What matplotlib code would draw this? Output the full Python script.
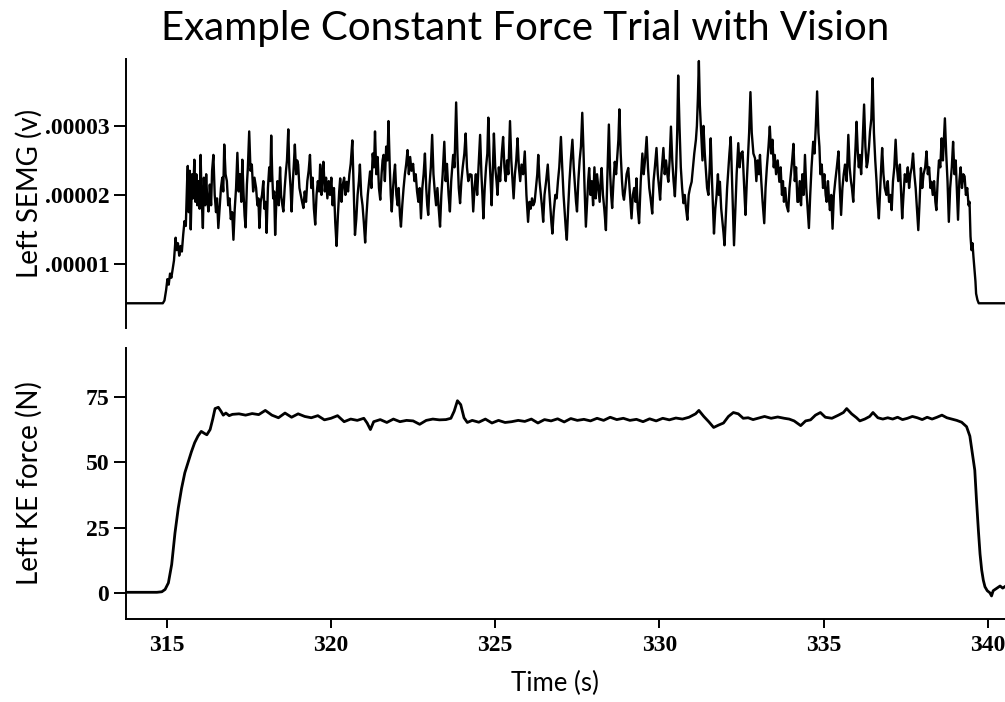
import numpy as np
import matplotlib
matplotlib.use("Agg")
import matplotlib.pyplot as plt

plt.rcParams.update({
    "font.family": "Lato",
    "axes.linewidth": 1.4,
    "xtick.major.width": 1.4,
    "ytick.major.width": 1.4,
})

# ---- data (time in s) ----
semg_t = [313.78, 314.88, 314.93, 314.98, 315.02, 315.06, 315.10, 315.14, 315.18, 315.22,
          315.27, 315.30, 315.34, 315.38, 315.42, 315.46, 315.50, 315.54, 315.58, 315.62,
          315.64, 315.67, 315.70, 315.73, 315.77, 315.80, 315.84, 315.87, 315.90, 315.93,
          315.97, 316.00, 316.03, 316.06, 316.10, 316.13, 316.17, 316.20, 316.23, 316.27,
          316.31, 316.35, 316.38, 316.42, 316.46, 316.50, 316.53, 316.57, 316.61, 316.65,
          316.69, 316.72, 316.75, 316.79, 316.83, 316.87, 316.91, 316.95, 316.99, 317.03,
          317.07, 317.11, 317.15, 317.19, 317.23, 317.27, 317.30, 317.34, 317.37, 317.40,
          317.44, 317.47, 317.51, 317.55, 317.59, 317.63, 317.67, 317.72, 317.76, 317.79,
          317.82, 317.86, 317.90, 317.94, 317.97, 318.01, 318.04, 318.08, 318.12, 318.15,
          318.18, 318.21, 318.24, 318.27, 318.30, 318.34, 318.37, 318.41, 318.45, 318.48,
          318.52, 318.55, 318.59, 318.63, 318.66, 318.70, 318.73, 318.77, 318.80, 318.84,
          318.87, 318.90, 318.94, 318.97, 319.00, 319.04, 319.08, 319.12, 319.16, 319.20,
          319.24, 319.28, 319.32, 319.36, 319.40, 319.44, 319.48, 319.52, 319.56, 319.60,
          319.64, 319.67, 319.71, 319.74, 319.77, 319.81, 319.85, 319.89, 319.93, 319.97,
          320.01, 320.05, 320.09, 320.13, 320.17, 320.21, 320.25, 320.28, 320.32, 320.36,
          320.40, 320.44, 320.48, 320.52, 320.56, 320.60, 320.65, 320.69, 320.73, 320.77,
          320.81, 320.85, 320.88, 320.92, 320.96, 321.00, 321.04, 321.08, 321.12, 321.16,
          321.19, 321.23, 321.27, 321.31, 321.34, 321.38, 321.42, 321.46, 321.50, 321.54,
          321.57, 321.60, 321.64, 321.68, 321.72, 321.75, 321.79, 321.82, 321.85, 321.89,
          321.92, 321.95, 321.99, 322.03, 322.06, 322.10, 322.13, 322.17, 322.21, 322.25,
          322.29, 322.33, 322.37, 322.41, 322.45, 322.50, 322.54, 322.58, 322.62, 322.66,
          322.70, 322.74, 322.78, 322.82, 322.86, 322.90, 322.93, 322.96, 323.00, 323.04,
          323.08, 323.12, 323.16, 323.20, 323.24, 323.28, 323.32, 323.36, 323.40, 323.45,
          323.49, 323.53, 323.58, 323.62, 323.66, 323.69, 323.72, 323.76, 323.81, 323.85,
          323.89, 323.93, 323.97, 324.01, 324.06, 324.10, 324.14, 324.18, 324.23, 324.28,
          324.33, 324.37, 324.41, 324.45, 324.50, 324.54, 324.58, 324.61, 324.64, 324.68,
          324.72, 324.76, 324.79, 324.83, 324.86, 324.89, 324.93, 324.96, 325.00, 325.04,
          325.07, 325.11, 325.15, 325.20, 325.24, 325.28, 325.32, 325.36, 325.40, 325.45,
          325.49, 325.53, 325.56, 325.60, 325.64, 325.68, 325.72, 325.76, 325.80, 325.85,
          325.90, 325.95, 326.00, 326.04, 326.08, 326.12, 326.16, 326.20, 326.24, 326.28,
          326.31, 326.35, 326.39, 326.43, 326.46, 326.50, 326.55, 326.60, 326.64, 326.68,
          326.71, 326.74, 326.78, 326.83, 326.87, 326.91, 326.95, 327.00, 327.04, 327.08,
          327.12, 327.15, 327.18, 327.22, 327.26, 327.30, 327.35, 327.39, 327.43, 327.46,
          327.49, 327.53, 327.57, 327.61, 327.65, 327.69, 327.72, 327.76, 327.80, 327.83,
          327.86, 327.90, 327.94, 327.98, 328.02, 328.06, 328.10, 328.14, 328.18, 328.21,
          328.24, 328.28, 328.32, 328.37, 328.41, 328.46, 328.50, 328.53, 328.56, 328.60,
          328.64, 328.68, 328.72, 328.75, 328.78, 328.82, 328.86, 328.89, 328.92, 328.96,
          329.00, 329.05, 329.09, 329.12, 329.15, 329.19, 329.23, 329.27, 329.30, 329.34,
          329.38, 329.43, 329.48, 329.52, 329.56, 329.61, 329.65, 329.69, 329.73, 329.78,
          329.82, 329.86, 329.91, 329.95, 329.99, 330.02, 330.06, 330.09, 330.12, 330.16,
          330.20, 330.24, 330.27, 330.31, 330.35, 330.39, 330.43, 330.47, 330.51, 330.54,
          330.57, 330.61, 330.65, 330.69, 330.73, 330.77, 330.81, 330.85, 330.89, 330.93,
          330.98, 331.02, 331.06, 331.11, 331.14, 331.17, 331.20, 331.23, 331.27, 331.31,
          331.34, 331.38, 331.42, 331.45, 331.49, 331.53, 331.56, 331.60, 331.63, 331.66,
          331.70, 331.74, 331.78, 331.81, 331.84, 331.88, 331.92, 331.95, 331.98, 332.02,
          332.06, 332.10, 332.13, 332.17, 332.21, 332.24, 332.27, 332.31, 332.35, 332.40,
          332.44, 332.48, 332.53, 332.57, 332.60, 332.62, 332.66, 332.70, 332.73, 332.77,
          332.81, 332.86, 332.91, 332.95, 332.99, 333.03, 333.06, 333.10, 333.14, 333.19,
          333.23, 333.27, 333.32, 333.36, 333.40, 333.44, 333.48, 333.51, 333.55, 333.60,
          333.65, 333.69, 333.73, 333.76, 333.79, 333.83, 333.87, 333.92, 333.96, 334.00,
          334.04, 334.08, 334.12, 334.16, 334.20, 334.23, 334.27, 334.31, 334.35, 334.39,
          334.43, 334.47, 334.51, 334.55, 334.59, 334.63, 334.68, 334.72, 334.76, 334.80,
          334.84, 334.87, 334.90, 334.94, 334.98, 335.02, 335.06, 335.09, 335.13, 335.16,
          335.19, 335.23, 335.27, 335.31, 335.35, 335.40, 335.45, 335.49, 335.53, 335.57,
          335.61, 335.65, 335.70, 335.75, 335.79, 335.83, 335.86, 335.90, 335.94, 335.97,
          336.00, 336.04, 336.07, 336.10, 336.14, 336.18, 336.23, 336.27, 336.31, 336.34,
          336.38, 336.41, 336.45, 336.49, 336.53, 336.57, 336.61, 336.64, 336.68, 336.72,
          336.75, 336.78, 336.82, 336.86, 336.91, 336.95, 336.99, 337.03, 337.07, 337.11,
          337.15, 337.19, 337.23, 337.27, 337.32, 337.36, 337.39, 337.43, 337.47, 337.52,
          337.56, 337.60, 337.64, 337.68, 337.72, 337.76, 337.80, 337.84, 337.88, 337.92,
          337.96, 338.00, 338.04, 338.09, 338.13, 338.17, 338.21, 338.25, 338.28, 338.32,
          338.36, 338.40, 338.43, 338.47, 338.51, 338.55, 338.59, 338.63, 338.66, 338.69,
          338.73, 338.77, 338.81, 338.85, 338.90, 338.94, 338.98, 339.02, 339.06, 339.09,
          339.13, 339.17, 339.21, 339.25, 339.29, 339.33, 339.37, 339.41, 339.44, 339.47,
          339.50, 339.53, 339.56, 339.59, 339.62, 339.64, 339.68, 339.72, 340.52]

# SEMG amplitude in units of 1e-5 V
semg_v = [0.43, 0.43, 0.47, 0.62, 0.78, 0.70, 0.86, 0.80, 0.93, 1.05,
          1.38, 1.20, 1.30, 1.12, 1.26, 1.18, 1.42, 1.62, 1.55, 2.20,
          2.42, 1.75, 2.35, 1.50, 2.30, 1.95, 2.51, 1.90, 2.30, 1.85,
          2.20, 1.80, 2.58, 2.00, 1.52, 2.25, 1.85, 2.30, 1.95, 1.76,
          2.15, 1.85, 2.35, 2.58, 2.00, 1.75, 1.95, 1.52, 1.80, 2.10,
          2.25, 2.05, 2.73, 2.30, 2.20, 1.85, 1.95, 1.65, 1.75, 1.35,
          1.80, 2.10, 2.61, 2.05, 2.30, 1.90, 2.51, 2.00, 1.70, 1.53,
          2.15, 2.40, 2.92, 2.35, 2.44, 2.05, 2.25, 2.10, 1.85, 1.95,
          1.52, 1.90, 2.00, 2.20, 1.80, 1.90, 1.45, 2.10, 2.40, 2.20,
          2.86, 2.30, 1.95, 2.05, 1.42, 1.95, 2.20, 1.85, 2.40, 2.00,
          1.85, 1.76, 2.10, 2.35, 2.50, 2.95, 2.40, 2.10, 1.76, 2.20,
          2.45, 2.73, 2.30, 2.50, 2.44, 2.10, 2.00, 1.90, 1.81, 2.05,
          1.90, 2.20, 2.35, 2.58, 2.10, 2.25, 1.80, 1.57, 2.00, 2.20,
          2.05, 2.44, 2.00, 2.30, 2.48, 2.05, 2.25, 1.95, 2.20, 2.00,
          2.25, 1.85, 2.10, 1.60, 1.26, 1.70, 2.05, 2.24, 1.90, 2.15,
          2.25, 2.00, 2.19, 2.05, 2.30, 2.45, 2.79, 2.10, 1.42, 1.65,
          2.00, 2.20, 2.44, 2.00, 1.85, 1.60, 1.31, 1.70, 2.00, 2.20,
          2.34, 2.10, 2.60, 2.40, 2.92, 2.30, 2.55, 2.10, 1.93, 2.30,
          2.50, 2.58, 2.20, 2.70, 2.50, 3.07, 2.40, 2.00, 1.76, 2.10,
          2.30, 2.44, 2.00, 1.85, 2.10, 1.70, 1.54, 1.85, 2.10, 2.30,
          2.45, 2.65, 2.30, 2.55, 2.35, 2.45, 2.20, 2.30, 2.05, 1.90,
          2.10, 1.66, 2.10, 2.30, 2.60, 2.10, 1.85, 1.71, 2.15, 2.40,
          2.87, 2.30, 2.05, 1.85, 2.10, 1.80, 1.54, 2.00, 2.30, 2.77,
          2.20, 2.45, 2.00, 1.76, 2.20, 2.40, 2.58, 2.40, 3.34, 2.60,
          2.10, 1.88, 2.20, 2.40, 2.60, 2.89, 2.40, 2.20, 2.30, 2.29,
          1.76, 2.10, 2.30, 2.00, 2.50, 2.87, 2.30, 2.00, 1.66, 2.10,
          2.40, 2.60, 3.12, 2.50, 2.20, 1.85, 2.40, 2.89, 2.40, 2.20,
          2.00, 2.40, 2.20, 2.60, 2.84, 2.40, 2.20, 2.50, 2.30, 3.07,
          2.50, 2.20, 1.95, 2.30, 2.50, 2.82, 2.40, 2.20, 2.44, 2.30,
          2.63, 2.00, 1.61, 1.90, 1.80, 1.95, 1.85, 1.90, 2.10, 2.30,
          2.58, 2.20, 2.00, 1.80, 1.61, 2.00, 2.20, 2.44, 2.10, 1.80,
          1.60, 1.44, 1.75, 2.00, 1.95, 2.20, 2.40, 2.84, 2.40, 2.00,
          1.70, 1.50, 1.35, 1.80, 2.20, 2.50, 2.80, 2.40, 2.10, 1.90,
          1.76, 2.20, 2.50, 2.70, 3.19, 2.60, 2.10, 1.54, 1.90, 2.20,
          2.39, 2.00, 2.20, 1.85, 2.40, 1.95, 2.30, 2.10, 1.90, 2.20,
          2.39, 2.00, 1.80, 1.49, 2.20, 3.02, 2.30, 2.00, 1.81, 2.20,
          2.48, 2.30, 2.60, 2.80, 3.24, 2.60, 2.20, 2.00, 1.93, 2.10,
          2.30, 2.39, 2.10, 1.90, 1.66, 2.00, 2.10, 1.90, 2.24, 1.80,
          1.59, 2.20, 2.60, 2.30, 2.50, 2.84, 2.40, 2.10, 1.95, 1.73,
          2.20, 2.40, 2.68, 2.30, 2.10, 1.93, 2.30, 2.50, 2.68, 2.30,
          2.50, 2.30, 2.19, 2.50, 2.99, 2.50, 2.20, 1.98, 2.40, 2.90,
          3.73, 3.00, 2.40, 2.10, 1.88, 2.00, 1.80, 1.64, 2.00, 2.10,
          2.19, 2.40, 2.60, 2.80, 3.00, 3.40, 3.94, 3.30, 2.90, 2.50,
          3.00, 2.60, 2.30, 2.10, 2.00, 2.40, 2.82, 2.20, 1.80, 1.44,
          1.80, 2.00, 2.30, 2.00, 2.19, 1.80, 1.60, 1.45, 1.27, 1.70,
          2.10, 2.40, 2.60, 2.84, 2.20, 1.70, 1.27, 1.80, 2.30, 2.75,
          2.40, 2.60, 2.63, 2.20, 1.90, 1.71, 2.20, 2.60, 2.90, 3.49,
          2.90, 2.60, 2.53, 2.20, 2.50, 2.30, 2.58, 2.20, 1.90, 1.59,
          2.10, 2.40, 2.70, 2.99, 2.60, 2.80, 2.40, 2.58, 2.30, 2.50,
          2.19, 2.40, 2.00, 2.20, 1.90, 2.10, 1.85, 1.76, 2.10, 2.30,
          2.50, 2.74, 2.20, 2.40, 1.90, 1.90, 2.20, 1.85, 2.30, 2.00,
          2.58, 2.10, 1.80, 1.52, 2.00, 2.40, 2.77, 2.60, 3.00, 3.50,
          2.90, 2.70, 2.30, 2.44, 2.10, 2.30, 2.00, 1.90, 2.20, 1.95,
          1.78, 2.00, 1.51, 2.00, 2.19, 2.40, 2.63, 2.10, 1.71, 2.10,
          2.30, 2.44, 2.20, 2.87, 2.40, 2.20, 2.10, 1.90, 2.40, 2.70,
          3.06, 2.60, 2.40, 2.58, 2.30, 2.70, 3.31, 2.70, 2.40, 2.48,
          2.70, 2.92, 3.10, 3.69, 2.90, 2.50, 2.19, 1.90, 1.66, 2.10,
          2.40, 2.68, 2.30, 2.10, 2.00, 2.20, 1.90, 2.00, 1.78, 2.20,
          2.40, 2.80, 2.40, 2.20, 2.44, 2.00, 1.66, 2.00, 2.30, 2.19,
          2.40, 2.10, 2.30, 2.40, 2.60, 2.30, 2.10, 1.80, 1.49, 1.90,
          2.39, 2.10, 2.30, 2.40, 2.63, 2.30, 2.40, 2.10, 2.19, 2.00,
          2.20, 1.90, 1.78, 2.20, 2.50, 2.40, 2.82, 2.50, 2.80, 3.11,
          2.60, 2.20, 1.61, 2.10, 2.40, 2.77, 2.30, 2.50, 2.00, 1.64,
          2.20, 2.40, 2.10, 2.30, 2.27, 2.00, 2.10, 1.85, 1.90, 1.40,
          1.20, 1.30, 1.10, 0.93, 0.75, 0.57, 0.48, 0.43, 0.43]

force_t = [313.78, 314.70, 314.85, 314.95, 315.05, 315.15, 315.25, 315.35, 315.45, 315.55,
           315.65, 315.75, 315.85, 315.95, 316.05, 316.15, 316.22, 316.32, 316.40, 316.47,
           316.57, 316.65, 316.72, 316.80, 316.90, 317.00, 317.20, 317.40, 317.60, 317.80,
           318.00, 318.20, 318.40, 318.60, 318.80, 319.00, 319.20, 319.40, 319.60, 319.80,
           320.00, 320.20, 320.40, 320.60, 320.80, 321.00, 321.10, 321.20, 321.30, 321.50,
           321.70, 321.90, 322.10, 322.30, 322.50, 322.70, 322.90, 323.10, 323.30, 323.50,
           323.65, 323.75, 323.85, 323.95, 324.05, 324.15, 324.30, 324.50, 324.70, 324.90,
           325.10, 325.30, 325.50, 325.70, 325.90, 326.10, 326.30, 326.50, 326.70, 326.90,
           327.10, 327.30, 327.50, 327.70, 327.90, 328.10, 328.30, 328.50, 328.70, 328.90,
           329.10, 329.30, 329.50, 329.70, 329.90, 330.10, 330.30, 330.50, 330.70, 330.90,
           331.10, 331.20, 331.35, 331.50, 331.65, 331.80, 331.95, 332.10, 332.25, 332.40,
           332.55, 332.70, 332.85, 333.00, 333.20, 333.40, 333.60, 333.80, 333.95, 334.10,
           334.30, 334.45, 334.60, 334.75, 334.90, 335.05, 335.25, 335.45, 335.60, 335.70,
           335.85, 336.00, 336.10, 336.25, 336.40, 336.50, 336.65, 336.80, 336.95, 337.10,
           337.25, 337.40, 337.55, 337.70, 337.85, 338.00, 338.15, 338.30, 338.45, 338.60,
           338.75, 338.90, 339.05, 339.20, 339.35, 339.45, 339.52, 339.60, 339.65, 339.71,
           339.76, 339.81, 339.86, 339.91, 339.98, 340.06, 340.11, 340.16, 340.22, 340.30,
           340.37, 340.45, 340.52]

force_n = [0.4, 0.4, 0.6, 1.5, 4.0, 11.0, 23.0, 32.5, 40.0, 46.0,
           50.0, 54.0, 57.5, 60.0, 61.8, 61.0, 60.5, 62.5, 66.5, 70.5,
           71.0, 69.5, 68.0, 68.8, 67.8, 68.3, 68.5, 68.0, 68.6, 68.2,
           69.8, 68.0, 67.0, 68.8, 67.2, 68.5, 67.5, 67.0, 67.8, 66.2,
           66.8, 67.8, 65.5, 66.5, 66.0, 66.8, 65.0, 62.5, 65.5, 66.3,
           65.2, 66.5, 65.5, 66.0, 65.8, 64.5, 66.0, 66.5, 66.2, 66.3,
           66.8, 69.5, 73.5, 72.0, 67.0, 65.2, 66.0, 65.3, 66.5, 65.0,
           66.0, 65.2, 65.5, 66.0, 65.6, 66.5, 65.0, 66.3, 65.8, 66.6,
           65.4, 66.7, 66.0, 66.4, 65.8, 66.8, 66.0, 67.2, 66.3, 66.8,
           66.0, 66.4, 65.5, 66.6, 65.8, 66.8, 66.2, 66.9, 66.5, 67.2,
           68.5, 69.8, 67.5, 65.5, 63.3, 64.2, 65.0, 67.5, 69.0, 68.5,
           66.8, 67.0, 66.3, 66.8, 67.5, 66.8, 67.3, 66.8, 66.5, 65.8,
           64.0, 65.8, 66.2, 68.0, 69.0, 67.2, 66.8, 68.0, 69.0, 70.5,
           68.5, 67.0, 65.8, 66.5, 67.5, 69.0, 67.0, 66.5, 67.0, 66.5,
           67.2, 66.3, 66.8, 67.5, 67.0, 66.3, 67.2, 66.5, 67.2, 68.0,
           67.0, 66.5, 66.0, 65.3, 63.6, 60.0, 54.0, 47.0, 36.0, 24.0,
           15.0, 8.9, 5.0, 2.5, 1.0, 0.2, -1.0, 1.0, 1.5, 2.2,
           2.8, 2.0, 2.6]

semg_ticks = [1e-5, 2e-5, 3e-5]
semg_ticklabels = [".00001", ".00002", ".00003"]
force_ticks = [0, 25, 50, 75]
time_ticks = [315, 320, 325, 330, 335, 340]

tick_font = dict(family="Liberation Serif", size=17, weight="bold")

fig = plt.figure(figsize=(10.05, 7.02), dpi=100)
ax1 = fig.add_axes([0.1254, 0.5328, 0.8746, 0.3832])
ax2 = fig.add_axes([0.1254, 0.1182, 0.8746, 0.3860])

# top: SEMG
ax1.plot(semg_t, np.array(semg_v) * 1e-5, color="black", lw=1.7)
ax1.set_xlim(313.76, 340.52)
ax1.set_ylim(0.072e-5, 3.97e-5)
ax1.set_yticks(semg_ticks)
ax1.set_yticklabels(semg_ticklabels, fontdict=tick_font)
ax1.set_xticks([])
for s in ["top", "right", "bottom"]:
    ax1.spines[s].set_visible(False)
ax1.tick_params(axis="y", direction="out", length=9, pad=3)
ax1.set_ylabel("Left SEMG (v)", fontsize=20)
ax1.yaxis.set_label_coords(-0.095, 0.5)

# bottom: force
ax2.plot(force_t, force_n, color="black", lw=2.0)
ax2.set_xlim(313.76, 340.52)
ax2.set_ylim(-9.8, 93.6)
ax2.set_yticks(force_ticks)
ax2.set_yticklabels([str(v) for v in force_ticks], fontdict=tick_font)
ax2.set_xticks(time_ticks)
ax2.set_xticklabels([str(v) for v in time_ticks], fontdict=tick_font)
for s in ["top", "right"]:
    ax2.spines[s].set_visible(False)
ax2.tick_params(axis="y", direction="out", length=9, pad=3)
ax2.tick_params(axis="x", direction="out", length=6.5, pad=5)
ax2.set_ylabel("Left KE force (N)", fontsize=20)
ax2.yaxis.set_label_coords(-0.095, 0.5)
ax2.set_xlabel("Time (s)", fontsize=18.5)
ax2.xaxis.set_label_coords(0.488, -0.19)

fig.text(0.523, 1 - 40 / 702, "Example Constant Force Trial with Vision",
         ha="center", va="baseline", fontsize=29)

fig.savefig("out.png", dpi=100)
